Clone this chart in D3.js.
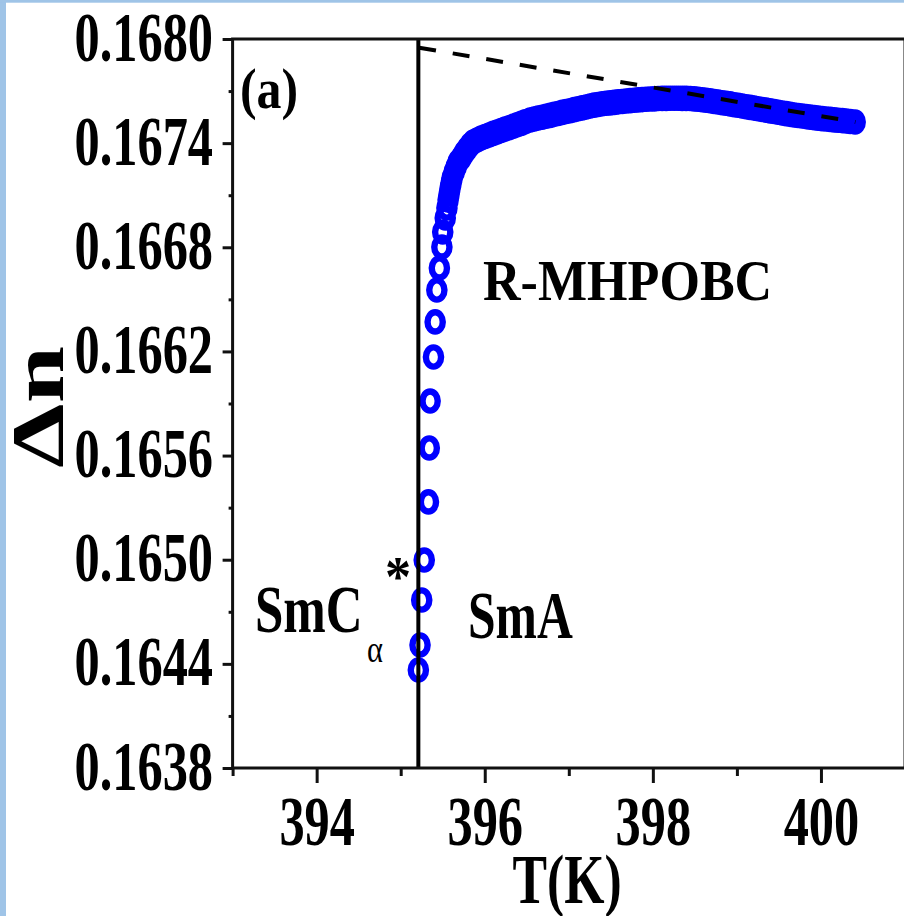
<!DOCTYPE html>
<html>
<head>
<meta charset="utf-8">
<script src="https://cdn.jsdelivr.net/npm/d3@7"></script>
<style>
  html, body { margin: 0; padding: 0; background: #ffffff; }
  svg { display: block; }
  text { font-family: "Liberation Serif", "Times New Roman", serif; fill: #000; }
</style>
</head>
<body>
<svg id="chart" width="904" height="916"></svg>
<script>
// Birefringence Δn of R-MHPOBC versus temperature near the SmCα*–SmA transition

// Sparse points on the steep rise just above the transition
const tempLow = [395.21, 395.23, 395.25, 395.28, 395.33, 395.34, 395.35, 395.39, 395.41,
                 395.43, 395.46, 395.49, 395.50, 395.53, 395.55];
const dnLow = [0.164365, 0.164509, 0.164768, 0.164998, 0.165333, 0.165644, 0.165914, 0.166168, 0.166370,
               0.166554, 0.166681, 0.166802, 0.166888, 0.166969, 0.167026];

// Dense SmA-phase readings
const tempHigh = [
  395.564, 395.576, 395.588, 395.600, 395.612, 395.636, 395.659, 395.683, 395.719, 395.755,
  395.790, 395.826, 395.862, 395.909, 395.957, 396.004, 396.052, 396.100, 396.147, 396.195,
  396.242, 396.290, 396.338, 396.385, 396.433, 396.480, 396.540, 396.588, 396.635, 396.683,
  396.730, 396.778, 396.826, 396.873, 396.921, 396.968, 397.016, 397.064, 397.111, 397.159,
  397.206, 397.254, 397.302, 397.349, 397.397, 397.444, 397.492, 397.540, 397.587, 397.635,
  397.682, 397.730, 397.778, 397.825, 397.873, 397.920, 397.968, 398.016, 398.063, 398.111,
  398.158, 398.206, 398.254, 398.301, 398.349, 398.396, 398.444, 398.492, 398.539, 398.587,
  398.634, 398.682, 398.730, 398.777, 398.825, 398.872, 398.920, 398.968, 399.015, 399.063,
  399.110, 399.158, 399.206, 399.253, 399.301, 399.348, 399.396, 399.444, 399.491, 399.539,
  399.586, 399.634, 399.682, 399.729, 399.777, 399.824, 399.872, 399.920, 399.967, 400.015,
  400.062, 400.110, 400.158, 400.205, 400.253, 400.300, 400.348, 400.407
];
const dnHigh = [
  0.167072, 0.167107, 0.167142, 0.167170, 0.167199, 0.167234, 0.167263, 0.167291, 0.167314, 0.167343,
  0.167366, 0.167389, 0.167407, 0.167418, 0.167430, 0.167438, 0.167447, 0.167456, 0.167464, 0.167473,
  0.167481, 0.167489, 0.167497, 0.167506, 0.167514, 0.167523, 0.167533, 0.167539, 0.167545, 0.167549,
  0.167555, 0.167560, 0.167566, 0.167571, 0.167577, 0.167582, 0.167587, 0.167593, 0.167598, 0.167603,
  0.167608, 0.167614, 0.167619, 0.167623, 0.167627, 0.167630, 0.167632, 0.167635, 0.167638, 0.167640,
  0.167643, 0.167645, 0.167647, 0.167649, 0.167651, 0.167653, 0.167654, 0.167655, 0.167657, 0.167658,
  0.167658, 0.167659, 0.167659, 0.167659, 0.167658, 0.167658, 0.167657, 0.167655, 0.167653, 0.167650,
  0.167647, 0.167644, 0.167640, 0.167637, 0.167633, 0.167630, 0.167626, 0.167621, 0.167618, 0.167614,
  0.167610, 0.167606, 0.167602, 0.167598, 0.167594, 0.167590, 0.167586, 0.167582, 0.167578, 0.167574,
  0.167570, 0.167566, 0.167562, 0.167559, 0.167556, 0.167553, 0.167550, 0.167547, 0.167544, 0.167541,
  0.167539, 0.167537, 0.167534, 0.167532, 0.167530, 0.167528, 0.167525, 0.167522
];

// Linear extrapolation of the high-temperature data (dashed)
const fitTemp = [395.22, 400.41];
const fitDn = [0.167950, 0.167522];

// Transition temperature (vertical line)
const transitionTemp = 395.21;

// Axes
const xDomain = [393, 401];
const yDomain = [0.1638, 0.1680];
const xTicks = [394, 396, 398, 400];
const xMinorTicks = [393, 395, 397, 399, 401];
const yTicks = [0.1638, 0.1644, 0.1650, 0.1656, 0.1662, 0.1668, 0.1674, 0.1680];
const yMinorTicks = [0.1641, 0.1647, 0.1653, 0.1659, 0.1665, 0.1671, 0.1677];

const svg = d3.select("#chart");
const plotLeft = 232.6, plotRight = 905, plotTop = 39, plotBottom = 768;

const x = d3.scaleLinear().domain(xDomain).range([plotLeft, plotRight]);
const y = d3.scaleLinear().domain(yDomain).range([plotBottom, plotTop]);

// page border strips
svg.append("rect").attr("x", 0).attr("y", 0).attr("width", 904).attr("height", 916).attr("fill", "#ffffff");
svg.append("rect").attr("x", 0).attr("y", 0).attr("width", 6).attr("height", 916).attr("fill", "#9fc4e7");
svg.append("rect").attr("x", 0).attr("y", 0).attr("width", 904).attr("height", 2.7).attr("fill", "#9fc4e7");

// condensed text helper
function label(txt, tx, ty, size, sx, opts = {}) {
  return svg.append("text")
    .attr("transform", `translate(${tx},${ty}) scale(${sx},1)` + (opts.rotate ? ` rotate(${opts.rotate})` : ""))
    .attr("text-anchor", opts.anchor || "start")
    .attr("font-size", size)
    .attr("font-weight", opts.weight || "bold")
    .text(txt);
}

// data points
const points = tempLow.map((t, i) => ({ t, dn: dnLow[i] }))
  .concat(tempHigh.map((t, i) => ({ t, dn: dnHigh[i] })));

svg.append("g")
  .selectAll("ellipse")
  .data(points)
  .join("ellipse")
  .attr("cx", d => x(d.t))
  .attr("cy", d => y(d.dn))
  .attr("rx", 7.6)
  .attr("ry", 9.6)
  .attr("fill", "none")
  .attr("stroke", "#0000ff")
  .attr("stroke-width", 6.4);

// dashed extrapolation
svg.append("line")
  .attr("x1", x(fitTemp[0])).attr("y1", y(fitDn[0]))
  .attr("x2", x(fitTemp[1])).attr("y2", y(fitDn[1]))
  .attr("stroke", "#000").attr("stroke-width", 4)
  .attr("stroke-dasharray", "17,17");

// transition line
svg.append("line")
  .attr("x1", x(transitionTemp)).attr("x2", x(transitionTemp))
  .attr("y1", plotTop).attr("y2", plotBottom)
  .attr("stroke", "#000").attr("stroke-width", 4);

// frame
svg.append("rect")
  .attr("x", plotLeft).attr("y", plotTop)
  .attr("width", plotRight - plotLeft).attr("height", plotBottom - plotTop)
  .attr("fill", "none").attr("stroke", "#111").attr("stroke-width", 3);

// y axis
const yAxis = svg.append("g").attr("transform", `translate(${plotLeft},0)`)
  .call(d3.axisLeft(y).tickValues(yTicks).tickSize(10).tickSizeOuter(0).tickFormat(d => d.toFixed(4)));
svg.append("g").attr("transform", `translate(${plotLeft},0)`)
  .call(d3.axisLeft(y).tickValues(yMinorTicks).tickSize(4).tickSizeOuter(0).tickFormat(""))
  .call(g => g.select(".domain").remove())
  .selectAll("line").attr("stroke-width", 3).attr("stroke", "#111");
yAxis.select(".domain").remove();
yAxis.selectAll("line").attr("stroke-width", 3).attr("stroke", "#111");
yAxis.selectAll("text")
  .attr("x", null).attr("dy", null)
  .attr("transform", "translate(-19.6,21) scale(0.73,1)")
  .attr("text-anchor", "end")
  .attr("font-family", "Liberation Serif")
  .attr("font-weight", "bold")
  .attr("font-size", 69)
  .attr("fill", "#000");

// x axis
const xAxis = svg.append("g").attr("transform", `translate(0,${plotBottom})`)
  .call(d3.axisBottom(x).tickValues(xTicks).tickSize(15).tickSizeOuter(0).tickFormat(d3.format("d")));
svg.append("g").attr("transform", `translate(0,${plotBottom})`)
  .call(d3.axisBottom(x).tickValues(xMinorTicks).tickSize(8).tickSizeOuter(0).tickFormat(""))
  .call(g => g.select(".domain").remove())
  .selectAll("line").attr("stroke-width", 3).attr("stroke", "#111");
xAxis.select(".domain").remove();
xAxis.selectAll("line").attr("stroke-width", 3).attr("stroke", "#111");
xAxis.selectAll("text")
  .attr("y", null).attr("dy", null)
  .attr("transform", "translate(0,77) scale(0.73,1)")
  .attr("text-anchor", "middle")
  .attr("font-family", "Liberation Serif")
  .attr("font-weight", "bold")
  .attr("font-size", 69)
  .attr("fill", "#000");

// axis titles
label("T(K)", 567, 903, 69, 0.75, { anchor: "middle" });
label("Δn", 63, 407, 103, 0.72, { anchor: "middle", rotate: -90 });

// annotations
label("(a)", 240, 108, 56, 0.89);
label("R-MHPOBC", 483, 300, 56, 0.93);
label("SmA", 468, 638, 68, 0.73);
label("SmC", 255, 632, 68, 0.75);
label("α", 367, 662, 38, 0.8, { weight: "normal" });
label("*", 385, 596, 58, 0.9);
</script>
</body>
</html>
